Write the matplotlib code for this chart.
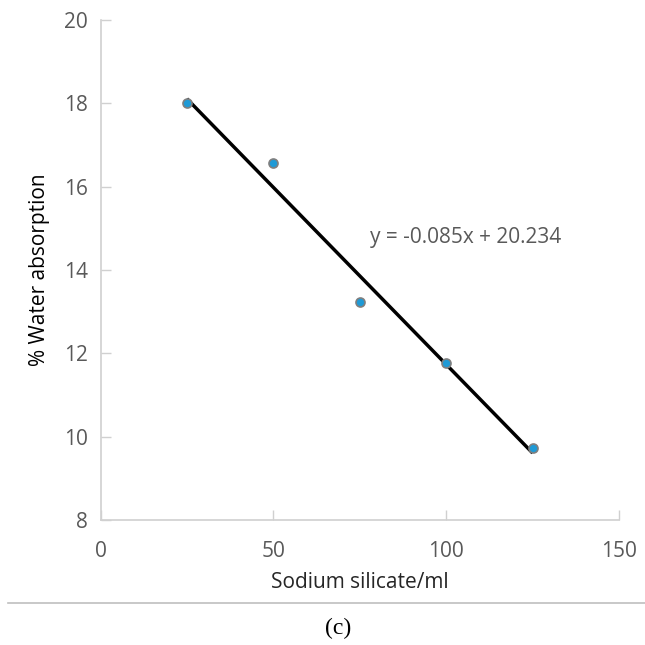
import numpy as np
import matplotlib
matplotlib.use("Agg")
from matplotlib import pyplot as plt
from matplotlib.lines import Line2D

# 数据
silicate = [25, 50, 75, 100, 125]
absorption = [18.0, 16.57, 13.22, 11.77, 9.73]
slope = -0.085
intercept = 20.234
eq_label = "y = -0.085x + 20.234"

x_ticks = [0, 50, 100, 150]
y_ticks = [8, 10, 12, 14, 16, 18, 20]

plt.rcParams['font.family'] = ['Open Sans', 'DejaVu Sans']

fig = plt.figure(figsize=(6.45, 6.45), dpi=100)
ax = fig.add_axes([100.5 / 645, 125 / 645, 518.5 / 645, 500 / 645])

# 趋势线
fit_x = np.array([silicate[0], silicate[-1]])
ax.plot(fit_x, slope * fit_x + intercept, color='black', lw=2.5, zorder=2,
        solid_capstyle='butt')
# 数据点
ax.scatter(silicate, absorption, s=42, color='#1f9ad6', edgecolor='#7f7f7f',
           linewidth=1.2, zorder=3)

ax.text(78, 14.79, eq_label, fontsize=15, color='#595959', va='center')

ax.set_xlim(0, 150)
ax.set_ylim(8, 20)
ax.set_xticks(x_ticks)
ax.set_yticks(y_ticks)
for side in ['top', 'right']:
    ax.spines[side].set_visible(False)
for side in ['left', 'bottom']:
    ax.spines[side].set_color('#d0d0d0')
    ax.spines[side].set_linewidth(1.2)
ax.tick_params(direction='in', length=7, width=1, color='#d0d0d0',
               labelcolor='#595959', labelsize=15)
ax.tick_params(axis='x', pad=15)
ax.tick_params(axis='y', pad=9)

ax.set_xlabel("Sodium silicate/ml", fontsize=15, color='#262626', labelpad=7)
ax.set_ylabel("% Water absorption", fontsize=15, color='black', labelpad=10)

# 分隔线和标题
fig.add_artist(Line2D([8 / 645, 1.0], [1 - 603 / 645, 1 - 603 / 645],
                      color='#bfbfbf', lw=1.2))
fig.text(338 / 645, 1 - 628 / 645, "(c)", fontsize=17, family='Liberation Serif',
         ha='center', va='center')

fig.savefig("out.png", dpi=100)
